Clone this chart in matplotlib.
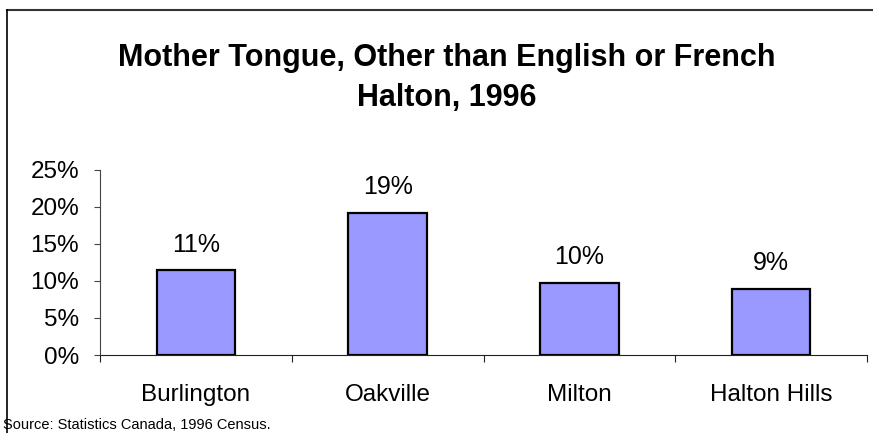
import matplotlib
matplotlib.use("Agg")
import matplotlib.pyplot as plt
from matplotlib.lines import Line2D
from matplotlib.ticker import FuncFormatter

plt.rcParams['font.family'] = ['Liberation Sans', 'DejaVu Sans']

municipalities = ["Burlington", "Oakville", "Milton", "Halton Hills"]
share_pct = [11.4, 19.2, 9.7, 8.9]
y_ticks = [0, 5, 10, 15, 20, 25]

W, H = 873, 433
fig = plt.figure(figsize=(W / 100, H / 100), dpi=100)

# plot area in pixel coordinates
left, right, top, bottom = 100, 867, 169.5, 355
ax = fig.add_axes([left / W, 1 - bottom / H, (right - left) / W, (bottom - top) / H])

x = list(range(len(municipalities)))
ax.bar(x, share_pct, width=0.41, color="#9999FF", edgecolor="black", linewidth=1.6, zorder=3)

for xi, v in zip(x, share_pct):
    ax.annotate(f"{round(v)}%", (xi, v), xytext=(0, 10), textcoords="offset points",
                ha="center", va="bottom", fontsize=18)

ax.set_xlim(-0.5, len(municipalities) - 0.5)
ax.set_ylim(0, 25)
ax.set_yticks(y_ticks)
ax.yaxis.set_major_formatter(FuncFormatter(lambda v, p: f"{v:.0f}%"))
ax.tick_params(axis="y", labelsize=17.5, length=4, width=0.8, pad=11, color="#444444")

# category labels centred, tick marks on category boundaries
ax.set_xticks(x)
ax.set_xticklabels(municipalities, fontsize=17.5)
ax.tick_params(axis="x", which="major", length=0, pad=21)
ax.set_xticks([i - 0.5 for i in range(len(municipalities) + 1)], minor=True)
ax.tick_params(axis="x", which="minor", length=5, width=0.8, color="#222222")

for s in ("top", "right"):
    ax.spines[s].set_visible(False)
ax.spines["left"].set_color("#444444")
ax.spines["left"].set_linewidth(0.8)
ax.spines["bottom"].set_color("#222222")
ax.spines["bottom"].set_linewidth(0.8)

fig.text(0.512, 1 - 58 / H, "Mother Tongue, Other than English or French",
         ha="center", va="center", fontsize=22, fontweight="bold")
fig.text(0.512, 1 - 98 / H, "Halton, 1996",
         ha="center", va="center", fontsize=22, fontweight="bold")

fig.text(3 / W, 1 - 425 / H, "Source: Statistics Canada, 1996 Census.",
         ha="left", va="center", fontsize=10.5)

# frame lines along top and left of the chart
fig.add_artist(Line2D([7 / W, 1], [1 - 9.5 / H, 1 - 9.5 / H], transform=fig.transFigure,
                      color="#333333", linewidth=1.5))
fig.add_artist(Line2D([7 / W, 7 / W], [1 - 9.5 / H, 0], transform=fig.transFigure,
                      color="black", linewidth=1.2))

fig.savefig("out.png", dpi=100)
